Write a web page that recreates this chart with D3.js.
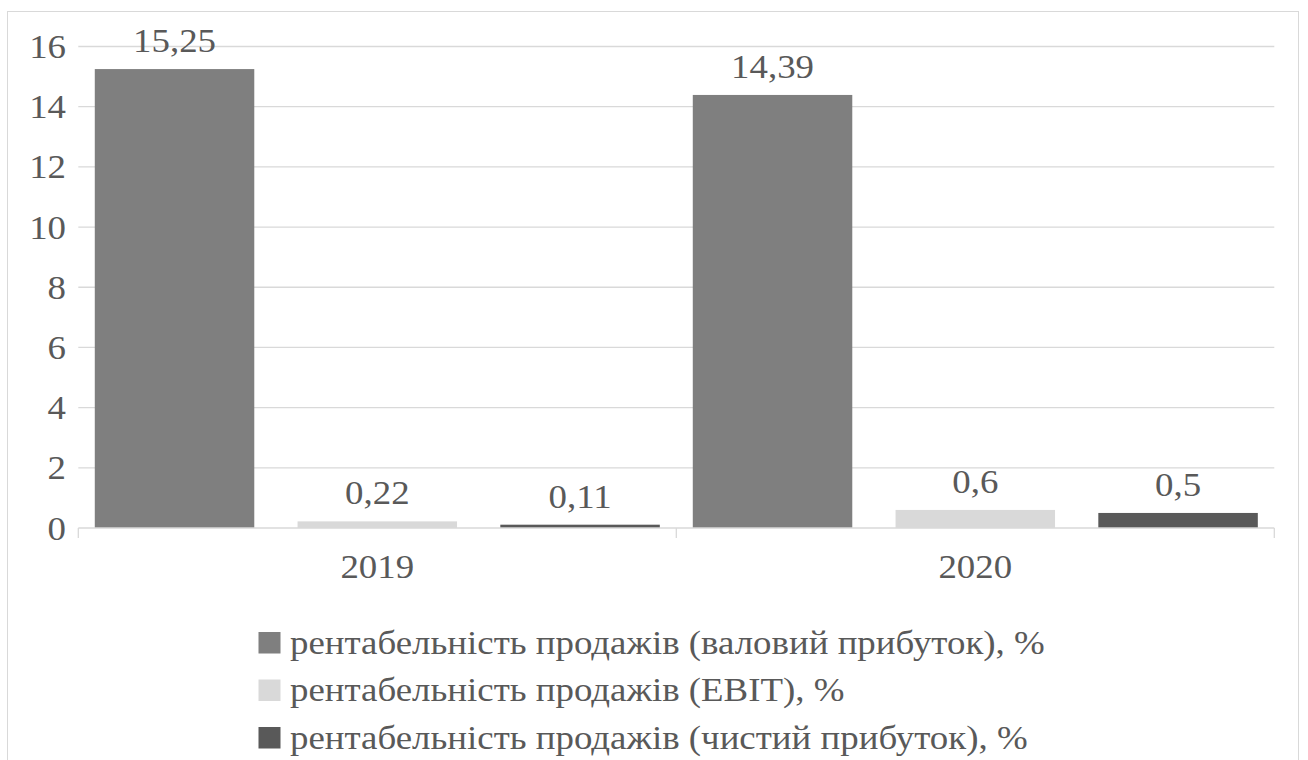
<!DOCTYPE html>
<html>
<head>
<meta charset="utf-8">
<script src="https://cdn.jsdelivr.net/npm/d3@7"></script>
<style>
  html, body { margin: 0; padding: 0; background: #ffffff; }
  svg { display: block; }
</style>
</head>
<body>
<svg id="chart" width="1308" height="760"></svg>
<script>
// Years on the category axis
const categories = ["2019", "2020"];
// Series names (legend)
const seriesNames = [
  "рентабельність продажів (валовий прибуток), %",
  "рентабельність продажів (EBIT), %",
  "рентабельність продажів (чистий прибуток), %"
];
// Values per series, one entry per year
const grossMargin = [15.25, 14.39];
const ebitMargin = [0.22, 0.6];
const netMargin = [0.11, 0.5];
// Y axis ticks
const yTicks = [0, 2, 4, 6, 8, 10, 12, 14, 16];

const seriesValues = [grossMargin, ebitMargin, netMargin];
const seriesColors = ["#7f7f7f", "#d9d9d9", "#595959"];

const FONT = "'Liberation Serif', 'DejaVu Serif', 'Noto Serif', 'FreeSerif', Tinos, Times, serif";
const fontSize = 33;
const legendLineWidth = 755;   // width of the longest legend entry

const svg = d3.select("#chart");
const plot = { left: 78.3, right: 1274.3, top: 46.5, bottom: 528 };

// Horizontal widening factor so the longest legend entry spans legendLineWidth
const probe = svg.append("text")
  .style("font-family", FONT).style("font-size", fontSize + "px")
  .text(seriesNames[0]);
const stretchX = legendLineWidth / probe.node().getComputedTextLength();
probe.remove();

// Draws a text with its anchor at (x, y), widened horizontally
function label(parent, x, y, str, anchor) {
  return parent.append("text")
    .attr("transform", `translate(${x},${y}) scale(${stretchX},1)`)
    .attr("text-anchor", anchor || "start")
    .style("font-family", FONT)
    .style("font-size", fontSize + "px")
    .style("fill", "#595959")
    .text(str);
}

// Outer chart frame
svg.append("rect")
  .attr("x", 7.5).attr("y", 11.5)
  .attr("width", 1291).attr("height", 800)
  .attr("fill", "#ffffff").attr("stroke", "#d9d9d9").attr("stroke-width", 1);

const y = d3.scaleLinear().domain([0, 16]).range([plot.bottom, plot.top]);
const x0 = d3.scaleBand().domain(categories).range([plot.left, plot.right]).padding(0);
const x1 = d3.scaleBand().domain(d3.range(seriesNames.length))
  .range([0, x0.bandwidth()])
  .paddingInner(0.2134).paddingOuter(0.0813);

// Horizontal gridlines
svg.append("g").selectAll("line")
  .data(yTicks.filter(t => t > 0))
  .join("line")
  .attr("x1", plot.left).attr("x2", plot.right)
  .attr("y1", d => y(d)).attr("y2", d => y(d))
  .attr("stroke", "#d9d9d9").attr("stroke-width", 1.3);

// Y axis labels (positions from the axis scale)
const gy = svg.append("g");
yTicks.forEach(t => label(gy, 66, y(t) + 11.5, String(t), "end"));

// Bars with value labels
const groups = svg.append("g").selectAll("g")
  .data(categories)
  .join("g")
  .attr("transform", d => `translate(${x0(d)},0)`);

groups.each(function (cat, ci) {
  const g = d3.select(this);
  seriesValues.forEach((vals, si) => {
    const v = vals[ci];
    g.append("rect")
      .attr("x", x1(si))
      .attr("y", y(v))
      .attr("width", x1.bandwidth())
      .attr("height", y(0) - y(v))
      .attr("fill", seriesColors[si]);
    label(g, x1(si) + x1.bandwidth() / 2, y(v) - 17, String(v).replace(".", ","), "middle");
  });
});

// Category axis with tick marks at band boundaries
const xAxisG = svg.append("g");
xAxisG.append("line")
  .attr("x1", plot.left).attr("x2", plot.right)
  .attr("y1", y(0)).attr("y2", y(0))
  .attr("stroke", "#d9d9d9").attr("stroke-width", 1.3);
const boundaries = categories.map(c => x0(c)).concat([x0(categories[categories.length - 1]) + x0.bandwidth()]);
xAxisG.selectAll("line.tick")
  .data(boundaries)
  .join("line")
  .attr("class", "tick")
  .attr("x1", d => d).attr("x2", d => d)
  .attr("y1", y(0)).attr("y2", y(0) + 10)
  .attr("stroke", "#d9d9d9").attr("stroke-width", 1.3);
categories.forEach(c => label(xAxisG, x0(c) + x0.bandwidth() / 2, 578, c, "middle"));

// Legend
const legend = svg.append("g").attr("transform", "translate(258.5,632)");
const rowH = 47.5;
seriesNames.forEach((name, i) => {
  const row = legend.append("g").attr("transform", `translate(0,${i * rowH})`);
  row.append("rect")
    .attr("width", 22).attr("height", 21.5)
    .attr("fill", seriesColors[i]);
  label(row, 31.5, 21.5, name, "start");
});
</script>
</body>
</html>
